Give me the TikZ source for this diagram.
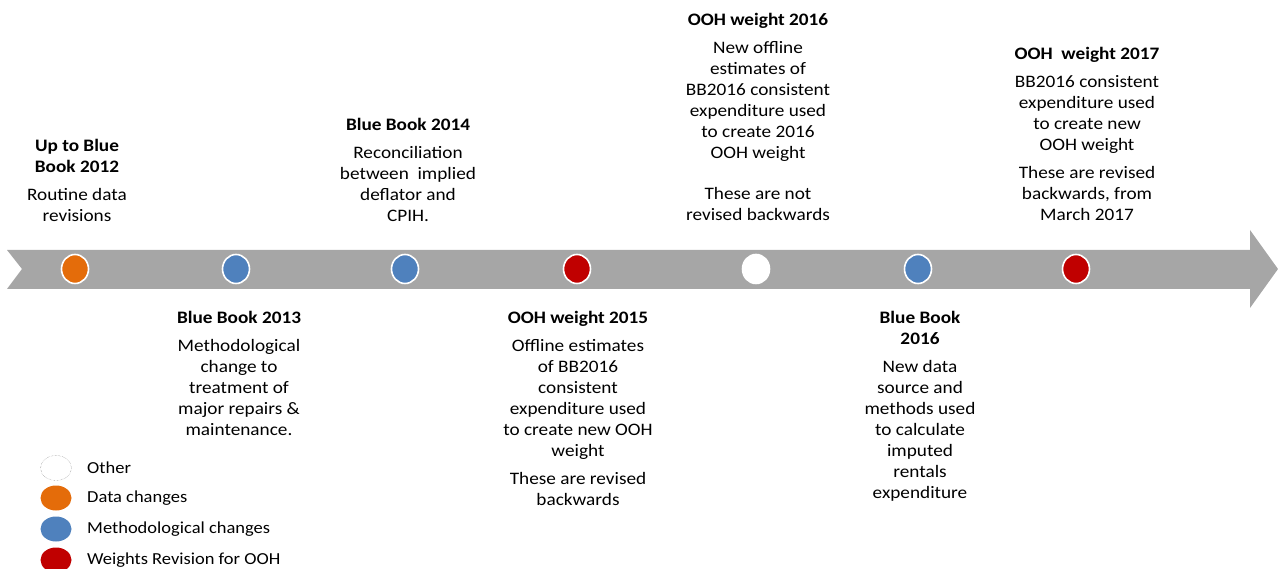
\documentclass[tikz,border=0pt]{standalone}
\usepackage{fontspec}
\setmainfont{Carlito}[FakeStretch=1.1]
\usetikzlibrary{shapes, positioning}
\definecolor{barGrey}{HTML}{A6A6A6}
\definecolor{dataOrange}{HTML}{E46C0A}
\definecolor{methBlue}{HTML}{4F81BD}
\definecolor{weightRed}{HTML}{C00000}
\tikzset{
    txt/.style={align=center, anchor=north, inner sep=0pt, font=\fontsize{17.5}{21}\selectfont},
    dot/.style={ellipse, draw=white, line width=1.6pt, minimum width=27pt, minimum height=29pt, inner sep=0pt},
    key/.style={ellipse, minimum width=31pt, minimum height=25pt, inner sep=0pt},
    keytxt/.style={anchor=west, inner sep=0pt, font=\fontsize{16.8}{21}\selectfont}
}

\begin{document}
\begin{tikzpicture}[x=1pt, y=-1pt]
    \useasboundingbox (0, 0) rectangle (1278, 569);

    % timeline arrow
    \fill[barGrey] (7, 250) -- (1250, 250) -- (1250, 230) -- (1278, 269) -- (1250, 308)
        -- (1250, 289) -- (7, 289) -- (22, 269) -- cycle;

    \node[dot, fill=dataOrange] (bb12) at (75, 269) {};
    \node[dot, fill=methBlue] (bb13) at (236, 269) {};
    \node[dot, fill=methBlue] (bb14) at (405, 269) {};
    \node[dot, fill=weightRed] (w15) at (577, 269) {};
    \node[dot, fill=white] (w16) at (756, 269) {};
    \node[dot, fill=methBlue] (bb16) at (918, 269) {};
    \node[dot, fill=weightRed] (w17) at (1076, 269) {};

    % above the line
    \node[txt] (t12) at (77, 139) {\textbf{Up to Blue}\\ \textbf{Book 2012}\\[7pt] Routine data\\ revisions};
    \node[txt] (t14) at (408, 118) {\textbf{Blue Book 2014}\\[7pt] Reconciliation\\ between\ \ implied\\ deflator and\\ CPIH.};
    \node[txt] (t16) at (758, 13) {\textbf{OOH weight 2016}\\[7pt] New offline\\ estimates of\\ BB2016 consistent\\ expenditure used\\ to create 2016\\ OOH weight\\[20pt] These are not\\ revised backwards};
    \node[txt] (t17) at (1087, 47) {\textbf{OOH\ \ weight 2017}\\[7pt] BB2016 consistent\\ expenditure used\\ to create new\\ OOH weight\\[7pt] These are revised\\ backwards, from\\ March 2017};

    % below the line
    \node[txt] (t13) at (239, 311) {\textbf{Blue Book 2013}\\[7pt] Methodological\\ change to\\ treatment of\\ major repairs \&\\ maintenance.};
    \node[txt] (t15) at (578, 311) {\textbf{OOH weight 2015}\\[7pt] Offline estimates\\ of BB2016\\ consistent\\ expenditure used\\ to create new OOH\\ weight\\[7pt] These are revised\\ backwards};
    \node[txt] (tb16) at (920, 311) {\textbf{Blue Book}\\ \textbf{2016}\\[7pt] New data\\ source and\\ methods used\\ to calculate\\ imputed\\ rentals\\ expenditure};

    % legend
    \node[key, draw=gray, densely dotted, fill=white] (kOther) at (56, 468) {};
    \node[key, fill=dataOrange] (kData) at (56, 498) {};
    \node[key, fill=methBlue] (kMeth) at (56, 529) {};
    \node[key, fill=weightRed] (kWeight) at (56, 560) {};
    \node[keytxt] at (87, 468) {Other};
    \node[keytxt] at (87, 498) {Data changes};
    \node[keytxt] at (87, 529) {Methodological changes};
    \node[keytxt] at (87, 560) {Weights Revision for OOH};
\end{tikzpicture}
\end{document}
